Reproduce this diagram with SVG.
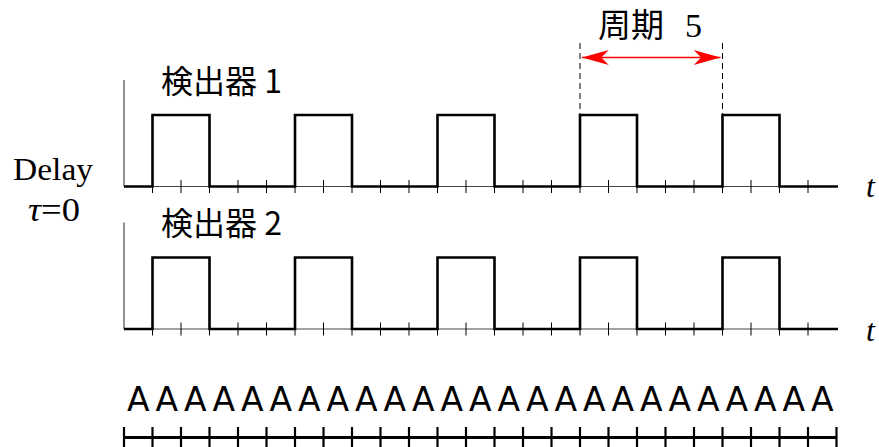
<svg xmlns="http://www.w3.org/2000/svg" width="879" height="447" viewBox="0 0 879 447">
<style>
.axis{stroke:#555;stroke-width:1.3;fill:none}
.thin{stroke:#444;stroke-width:1;fill:none}
.sig{stroke:#000;stroke-width:2.6;fill:none;stroke-linejoin:miter}
.tick{stroke:#000;stroke-width:1}
.btick{stroke:#000;stroke-width:2.2}
.dash{stroke:#000;stroke-width:1;stroke-dasharray:6,4}
.serif{font-family:"Liberation Serif","Times New Roman",serif;fill:#000}
.cjk{font-family:"Noto Sans CJK JP","Noto Sans",sans-serif;fill:#000}
.aa{font-family:"DejaVu Sans","Noto Sans",sans-serif;font-size:33px;fill:#000;text-anchor:middle}
</style>
<defs>
<marker id="ah" markerUnits="userSpaceOnUse" markerWidth="30" markerHeight="20" viewBox="-26 -8 28 16" refX="0" refY="0" orient="auto-start-reverse">
<path d="M0,0 L-25,-7 L-18,0 L-25,7 Z" fill="#f00"/>
</marker>
</defs>
<g id="labels">
<text class="serif" x="13" y="180" font-size="32" textLength="80" lengthAdjust="spacingAndGlyphs">Delay</text>
<text class="serif" x="28" y="221" font-size="33" textLength="52" lengthAdjust="spacingAndGlyphs"><tspan font-style="italic">τ</tspan>=0</text>
</g>
<g id="detector1">
<text class="cjk" x="161" y="93" font-size="32">検出器 1</text>
<line class="axis" x1="124" y1="80" x2="124" y2="186.5"/>
<line class="thin" x1="124" y1="186.5" x2="838" y2="186.5"/>
<path class="tick" d="M152.5,180V193M181,180V193M209.5,180V193M238,180V193M266.5,180V193M295,180V193M323.5,180V193M352,180V193M380.5,180V193M409,180V193M437.5,180V193M466,180V193M494.5,180V193M523,180V193M551.5,180V193M580,180V193M608.5,180V193M637,180V193M665.5,180V193M694,180V193M722.5,180V193M751,180V193M779.5,180V193M808,180V193"/>
<path class="sig" d="M124,186.5H152.5V115H209.5V186.5H295V115H352V186.5H437.5V115H494.5V186.5H580V115H637V186.5H722.5V115H779.5V186.5H838"/>
<text class="serif" x="866" y="197" font-size="32" font-style="italic">t</text>
</g>
<g id="detector2">
<text class="cjk" x="161" y="235" font-size="32">検出器 2</text>
<line class="axis" x1="124" y1="222.5" x2="124" y2="329"/>
<line class="thin" x1="124" y1="329" x2="838" y2="329"/>
<path class="tick" d="M152.5,322.5V335.5M181,322.5V335.5M209.5,322.5V335.5M238,322.5V335.5M266.5,322.5V335.5M295,322.5V335.5M323.5,322.5V335.5M352,322.5V335.5M380.5,322.5V335.5M409,322.5V335.5M437.5,322.5V335.5M466,322.5V335.5M494.5,322.5V335.5M523,322.5V335.5M551.5,322.5V335.5M580,322.5V335.5M608.5,322.5V335.5M637,322.5V335.5M665.5,322.5V335.5M694,322.5V335.5M722.5,322.5V335.5M751,322.5V335.5M779.5,322.5V335.5M808,322.5V335.5"/>
<path class="sig" d="M124,329H152.5V257.5H209.5V329H295V257.5H352V329H437.5V257.5H494.5V329H580V257.5H637V329H722.5V257.5H779.5V329H838"/>
<text class="serif" x="866" y="341" font-size="32" font-style="italic">t</text>
</g>
<g id="period">
<text class="cjk" x="598" y="37" font-size="33">周期</text>
<text class="serif" x="685" y="37" font-size="34">5</text>
</g>
<g id="connectors">
<line class="dash" x1="580" y1="43" x2="580" y2="115"/>
<line class="dash" x1="722.5" y1="43" x2="722.5" y2="115"/>
<line x1="582" y1="57.5" x2="720.5" y2="57.5" stroke="#f00" stroke-width="1.5" marker-start="url(#ah)" marker-end="url(#ah)"/>
</g>
<g id="sequence">
<text class="aa" y="411" x="138.25 166.75 195.25 223.75 252.25 280.75 309.25 337.75 366.25 394.75 423.25 451.75 480.25 508.75 537.25 565.75 594.25 622.75 651.25 679.75 708.25 736.75 765.25 793.75 822.25">AAAAAAAAAAAAAAAAAAAAAAAAA</text>
<line x1="124" y1="437.5" x2="837" y2="437.5" stroke="#000" stroke-width="2.8"/>
<path class="btick" d="M124,427V447M152.5,427V447M181,427V447M209.5,427V447M238,427V447M266.5,427V447M295,427V447M323.5,427V447M352,427V447M380.5,427V447M409,427V447M437.5,427V447M466,427V447M494.5,427V447M523,427V447M551.5,427V447M580,427V447M608.5,427V447M637,427V447M665.5,427V447M694,427V447M722.5,427V447M751,427V447M779.5,427V447M808,427V447M836.5,427V447"/>
</g>
</svg>
